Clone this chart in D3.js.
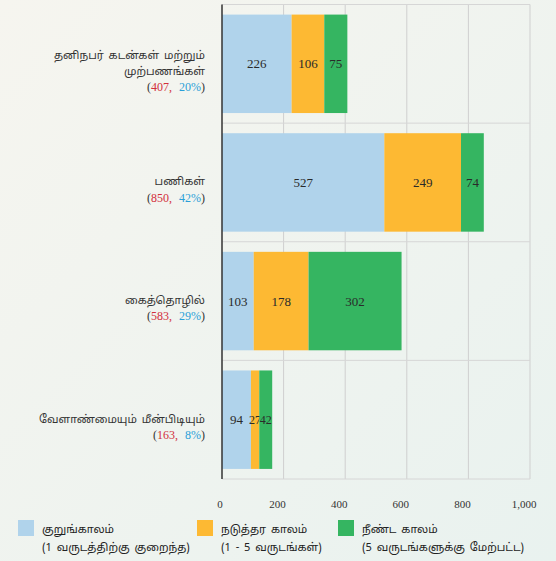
<!DOCTYPE html>
<html>
<head>
<meta charset="utf-8">
<script src="https://cdn.jsdelivr.net/npm/d3@7"></script>
<style>
  body { margin: 0; }
  text { font-family: "Liberation Serif", serif; }
  .tamil { font-family: "Noto Sans Tamil", "Noto Sans", "Lato", sans-serif; }
</style>
</head>
<body>
<div id="chart"></div>
<script>
const svgWidth = 556;
const svgHeight = 561;

const categories = [
    ["தனிநபர் கடன்கள் மற்றும்", "முற்பணங்கள்"],
    ["பணிகள்"],
    ["கைத்தொழில்"],
    ["வேளாண்மையும் மீன்பிடியும்"]
];
const shortTerm = [226, 527, 103, 94];
const mediumTerm = [106, 249, 178, 27];
const longTerm = [75, 74, 302, 42];
const totals = [407, 850, 583, 163];
const shares = ["20%", "42%", "29%", "8%"];
const xTicks = [0, 200, 400, 600, 800, 1000];

const seriesNames = [
    ["குறுங்காலம்", "(1 வருடத்திற்கு குறைந்த)"],
    ["நடுத்தர காலம்", "(1 - 5 வருடங்கள்)"],
    ["நீண்ட காலம்", "(5 வருடங்களுக்கு மேற்பட்ட)"]
];
const colors = ["#b0d3eb", "#fdb933", "#35b561"];

const plot = { left: 222, right: 530, top: 4.5, bottom: 479 };

const svg = d3.select("#chart")
    .append("svg")
    .attr("width", svgWidth)
    .attr("height", svgHeight);

const defs = svg.append("defs");
const grad = defs.append("linearGradient")
    .attr("id", "bg")
    .attr("x1", "0").attr("y1", "0")
    .attr("x2", "1").attr("y2", "1");
grad.append("stop").attr("offset", "0%").attr("stop-color", "#f6f5ef");
grad.append("stop").attr("offset", "100%").attr("stop-color", "#e9f2ef");

svg.append("rect")
    .attr("width", svgWidth)
    .attr("height", svgHeight)
    .attr("fill", "url(#bg)");

const x = d3.scaleLinear()
    .domain([0, 1000])
    .range([plot.left, plot.right]);

const y = d3.scaleBand()
    .domain(d3.range(categories.length))
    .range([plot.top, plot.bottom])
    .paddingInner(0.17)
    .paddingOuter(0.085);

// grid
const grid = svg.append("g");
grid.selectAll("line.v")
    .data(xTicks.slice(1))
    .enter()
    .append("line")
    .attr("x1", d => x(d)).attr("x2", d => x(d))
    .attr("y1", plot.top).attr("y2", plot.bottom)
    .attr("stroke", "#cfcfcf")
    .attr("stroke-width", 1);

const bandEdges = d3.range(categories.length + 1)
    .map(i => plot.top + i * (plot.bottom - plot.top) / categories.length);
grid.selectAll("line.h")
    .data(bandEdges)
    .enter()
    .append("line")
    .attr("x1", plot.left).attr("x2", plot.right)
    .attr("y1", d => d).attr("y2", d => d)
    .attr("stroke", "#d6d6d6")
    .attr("stroke-width", 1);

// stacked bars
const rows = categories.map((c, i) => [shortTerm[i], mediumTerm[i], longTerm[i]]);
const stacked = d3.stack().keys([0, 1, 2])(rows);

const layers = svg.selectAll("g.layer")
    .data(stacked)
    .enter()
    .append("g")
    .attr("fill", (d, k) => colors[k]);

layers.selectAll("rect")
    .data(d => d)
    .enter()
    .append("rect")
    .attr("x", d => x(d[0]))
    .attr("width", d => x(d[1]) - x(d[0]))
    .attr("y", (d, i) => y(i))
    .attr("height", y.bandwidth());

layers.selectAll("text")
    .data(d => d)
    .enter()
    .append("text")
    .attr("x", d => (x(d[0]) + x(d[1])) / 2)
    .attr("y", (d, i) => y(i) + y.bandwidth() / 2)
    .attr("dy", "0.35em")
    .attr("text-anchor", "middle")
    .attr("font-size", d => (x(d[1]) - x(d[0])) < 15 ? 12 : 13)
    .attr("fill", "#2a2a2a")
    .text(d => d[1] - d[0]);

// axis line
svg.append("line")
    .attr("x1", plot.left).attr("x2", plot.left)
    .attr("y1", plot.top).attr("y2", plot.bottom)
    .attr("stroke", "#333")
    .attr("stroke-width", 1.5);

// x tick labels
svg.append("g")
    .selectAll("text")
    .data(xTicks)
    .enter()
    .append("text")
    .attr("x", d => x(d) - (d === 0 ? 2 : 6))
    .attr("y", 504)
    .attr("dy", "0.35em")
    .attr("text-anchor", "middle")
    .attr("font-size", 11)
    .attr("fill", "#333")
    .text(d => d3.format(",")(d));

// category labels
const labels = svg.append("g");
categories.forEach((lines, i) => {
    const n = lines.length + 1;
    const cy = y(i) + y.bandwidth() / 2 + 7;
    const startY = cy - (n - 1) * 16 / 2;
    lines.forEach((t, j) => {
        labels.append("text")
            .attr("class", "tamil")
            .attr("x", 205)
            .attr("y", startY + j * 16)
            .attr("dy", "0.35em")
            .attr("text-anchor", "end")
            .attr("font-size", 11)
            .attr("word-spacing", 2)
            .attr("fill", "#333")
            .text(t);
    });
    const lbl = labels.append("text")
        .attr("x", 205)
        .attr("y", startY + lines.length * 16)
        .attr("dy", "0.35em")
        .attr("text-anchor", "end")
        .attr("font-size", 12)
        .attr("fill", "#333");
    lbl.append("tspan").text("(");
    lbl.append("tspan").attr("fill", "#d22f3c").text(totals[i] + ",");
    lbl.append("tspan").attr("dx", 7).attr("fill", "#2a9fd8").text(shares[i]);
    lbl.append("tspan").text(")");
});

// legend
const legendX = [18, 197, 338];
const legend = svg.append("g");
seriesNames.forEach((names, k) => {
    legend.append("rect")
        .attr("x", legendX[k])
        .attr("y", 520)
        .attr("width", 16)
        .attr("height", 16)
        .attr("fill", colors[k]);
    names.forEach((t, j) => {
        legend.append("text")
            .attr("class", "tamil")
            .attr("x", legendX[k] + 24)
            .attr("y", 529 + j * 18)
            .attr("dy", "0.35em")
            .attr("font-size", 11)
            .attr("word-spacing", 2)
            .attr("fill", "#222")
            .text(t);
    });
});
</script>
</body>
</html>
